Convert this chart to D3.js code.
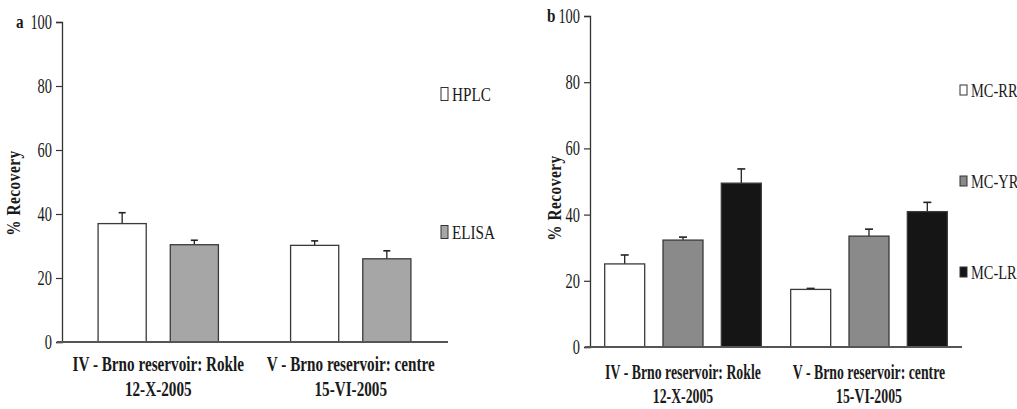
<!DOCTYPE html>
<html>
<head>
<meta charset="utf-8">
<script src="https://cdn.jsdelivr.net/npm/d3@7"></script>
<style>
  html, body { margin: 0; padding: 0; background: #fff; }
  svg { display: block; }
  text { font-family: "Liberation Serif", "Times New Roman", serif; fill: #1a1a1a; }
</style>
</head>
<body>
<svg id="chart" width="1017" height="409"></svg>
<script>
// ---- data ----
const sites = ["IV - Brno reservoir: Rokle", "V - Brno reservoir: centre"];
const siteDates = ["12-X-2005", "15-VI-2005"];
const yTicks = [0, 20, 40, 60, 80, 100];

// panel a: HPLC vs ELISA recovery (%)
const methodsA = ["HPLC", "ELISA"];
const hplcMean = [37.0, 30.2];
const hplcErr = [3.4, 1.4];
const elisaMean = [30.4, 26.0];
const elisaErr = [1.4, 2.5];

// panel b: recovery (%) of microcystin variants
const variantsB = ["MC-RR", "MC-YR", "MC-LR"];
const rrMean = [25.1, 17.4];
const rrErr = [2.7, 0.3];
const yrMean = [32.3, 33.5];
const yrErr = [0.9, 2.1];
const lrMean = [49.5, 40.9];
const lrErr = [4.3, 2.8];

const svg = d3.select("#chart");

// write text horizontally condensed about its anchor point
function label(parent, x, y, str, opts) {
  const o = Object.assign({ size: 19, sx: 0.78, anchor: "start", weight: "normal", rotate: 0 }, opts || {});
  const g = parent.append("g")
    .attr("transform", `translate(${x},${y}) rotate(${o.rotate}) scale(${o.sx},1)`);
  g.append("text")
    .attr("text-anchor", o.anchor)
    .attr("font-size", o.size)
    .attr("font-weight", o.weight)
    .attr("letter-spacing", o.spacing || 0)
    .text(str);
  return g;
}

function drawPanel(cfg) {
  const g = svg.append("g");
  const y = d3.scaleLinear().domain([0, 100]).range([cfg.y0, cfg.y100]);
  const x0 = d3.scaleBand().domain(sites).range([cfg.xL, cfg.xR]).padding(0);
  const x1 = d3.scaleBand().domain(cfg.series.map(s => s.name))
    .range([0, x0.bandwidth()]).paddingInner(cfg.padIn).paddingOuter(cfg.padOut);

  // bars + upper error bars
  cfg.series.forEach(s => {
    const rows = sites.map((site, i) => ({ site, v: s.mean[i], e: s.err[i] }));
    const bg = g.append("g");
    bg.selectAll("line.err").data(rows).join("line")
      .attr("x1", d => x0(d.site) + x1(s.name) + x1.bandwidth() / 2)
      .attr("x2", d => x0(d.site) + x1(s.name) + x1.bandwidth() / 2)
      .attr("y1", d => y(d.v))
      .attr("y2", d => y(d.v + d.e))
      .attr("stroke", "#222").attr("stroke-width", 1.3);
    bg.selectAll("line.cap").data(rows).join("line")
      .attr("x1", d => x0(d.site) + x1(s.name) + x1.bandwidth() / 2 - cfg.cap / 2)
      .attr("x2", d => x0(d.site) + x1(s.name) + x1.bandwidth() / 2 + cfg.cap / 2)
      .attr("y1", d => y(d.v + d.e))
      .attr("y2", d => y(d.v + d.e))
      .attr("stroke", "#222").attr("stroke-width", 1.6);
    bg.selectAll("rect").data(rows).join("rect")
      .attr("x", d => x0(d.site) + x1(s.name))
      .attr("y", d => y(d.v))
      .attr("width", x1.bandwidth())
      .attr("height", d => y(0) - y(d.v))
      .attr("fill", s.fill)
      .attr("stroke", "#3a3a3a").attr("stroke-width", 1.3);
  });

  // y axis
  const ax = g.append("g").attr("transform", `translate(${cfg.xL},0)`)
    .call(d3.axisLeft(y).tickValues(yTicks).tickSize(6).tickPadding(4).tickFormat(d3.format("d")));
  ax.select(".domain").attr("stroke", "#333").attr("stroke-width", 1.3);
  ax.selectAll(".tick line").attr("stroke", "#333").attr("stroke-width", 1.2);
  ax.selectAll(".tick text")
    .attr("font-family", "Liberation Serif")
    .attr("font-size", cfg.tickSize)
    .attr("fill", "#222")
    .attr("x", -10 / cfg.tickSx)
    .attr("transform", `scale(${cfg.tickSx},1)`);

  // x axis baseline
  g.append("line")
    .attr("x1", cfg.xL - 5).attr("x2", cfg.xEnd)
    .attr("y1", y(0)).attr("y2", y(0))
    .attr("stroke", "#555").attr("stroke-width", 2);

  // category labels
  sites.forEach((site, i) => {
    const cx = x0(site) + x0.bandwidth() / 2;
    label(g, cx, cfg.lab1, site, { anchor: "middle", weight: "bold", size: cfg.labSize, sx: cfg.labSx });
    label(g, cx, cfg.lab2, siteDates[i], { anchor: "middle", weight: "bold", size: cfg.labSize, sx: cfg.labSx });
  });

  // axis title and panel letter
  label(g, cfg.titleX, cfg.titleY, "% Recovery", { anchor: "middle", weight: "bold", size: 18, sx: 0.85, rotate: -90, spacing: 0.6 });
  label(g, cfg.letterX, cfg.letterY, cfg.letter, { weight: "bold", size: 19, sx: 0.8 });

  // legend
  cfg.series.forEach((s, i) => {
    const ly = cfg.legY[i];
    g.append("rect")
      .attr("x", cfg.legX).attr("y", ly - cfg.boxH / 2)
      .attr("width", 7).attr("height", cfg.boxH)
      .attr("fill", s.fill).attr("stroke", "#333").attr("stroke-width", 1);
    label(g, cfg.legX + 11, ly + 6.5, s.name, { size: 19, sx: cfg.legSx });
  });
}

drawPanel({
  letter: "a", letterX: 16, letterY: 28,
  xL: 62, xR: 447, xEnd: 448, y0: 342, y100: 22,
  padIn: 0.333, padOut: 0.5, cap: 7,
  tickSize: 20, tickSx: 0.72,
  lab1: 371, lab2: 396, labSize: 20, labSx: 0.76,
  titleX: 20, titleY: 193,
  legX: 441, legY: [94, 232], boxH: 13, legSx: 0.8,
  series: [
    { name: methodsA[0], mean: hplcMean, err: hplcErr, fill: "#ffffff" },
    { name: methodsA[1], mean: elisaMean, err: elisaErr, fill: "#a6a6a6" }
  ]
});

drawPanel({
  letter: "b", letterX: 547, letterY: 22,
  xL: 590, xR: 962, xEnd: 962, y0: 347, y100: 16,
  padIn: 0.314, padOut: 0.252, cap: 8,
  tickSize: 20, tickSx: 0.72,
  lab1: 379, lab2: 403, labSize: 20, labSx: 0.69,
  titleX: 561, titleY: 198,
  legX: 960, legY: [90, 181, 272], boxH: 10, legSx: 0.76,
  series: [
    { name: variantsB[0], mean: rrMean, err: rrErr, fill: "#ffffff" },
    { name: variantsB[1], mean: yrMean, err: yrErr, fill: "#8a8a8a" },
    { name: variantsB[2], mean: lrMean, err: lrErr, fill: "#151515" }
  ]
});
</script>
</body>
</html>
